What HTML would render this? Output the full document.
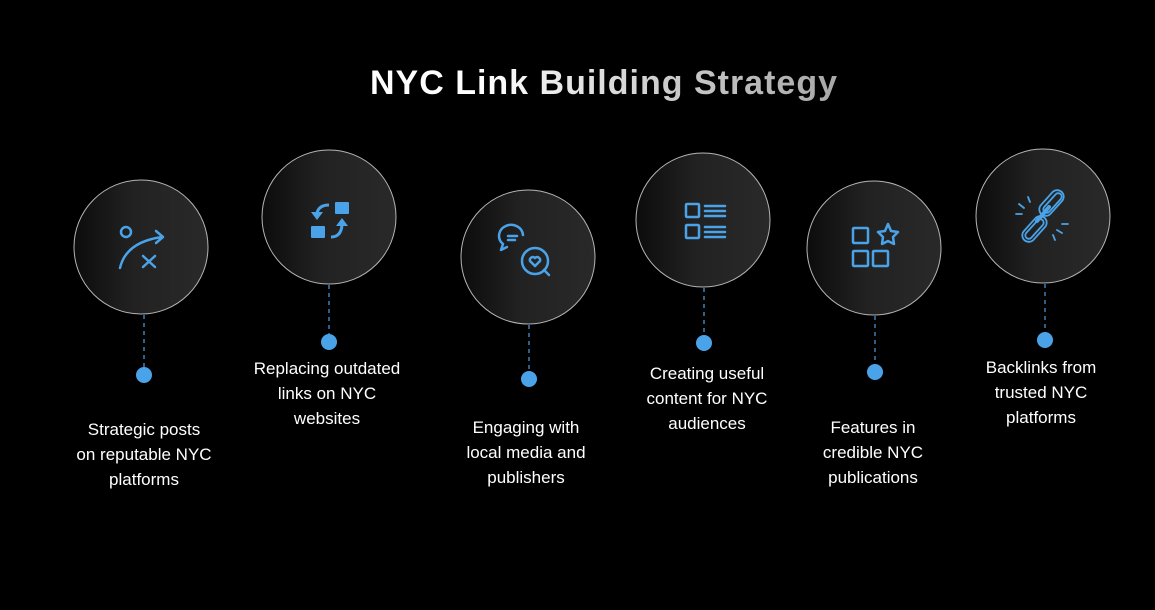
<!DOCTYPE html>
<html><head><style>
html,body{margin:0;padding:0;background:#000;width:1155px;height:610px;overflow:hidden}
.t{position:absolute;color:#fff;font-family:"Liberation Sans",sans-serif;font-size:17px;line-height:25px;text-align:center;width:200px}
h1{position:absolute;margin:0;left:0;width:1208px;top:64px;text-align:center;font-family:"Liberation Sans",sans-serif;font-weight:bold;font-size:34px;letter-spacing:1px;background:linear-gradient(90deg,#fff 40%,#ccc 55%,#999 75%);-webkit-background-clip:text;background-clip:text;color:transparent}
</style></head><body>
<h1>NYC Link Building Strategy</h1>
<svg width="1155" height="610" style="position:absolute;left:0;top:0">
<defs><linearGradient id="g" x1="0" x2="1" y1="0" y2="0"><stop offset="0" stop-color="#0c0c0c"/><stop offset="0.45" stop-color="#222"/><stop offset="1" stop-color="#292929"/></linearGradient></defs>
<g stroke="#3f7fb5" stroke-width="1.5" stroke-dasharray="4,4">
<line x1="144" y1="315" x2="144" y2="368"/><line x1="329" y1="285" x2="329" y2="335"/><line x1="529" y1="325" x2="529" y2="372"/><line x1="704" y1="288" x2="704" y2="336"/><line x1="875" y1="316" x2="875" y2="365"/><line x1="1045" y1="284" x2="1045" y2="333"/>
</g>
<g fill="#4aa3e8"><circle cx="144" cy="375" r="8"/><circle cx="329" cy="342" r="8"/><circle cx="529" cy="379" r="8"/><circle cx="704" cy="343" r="8"/><circle cx="875" cy="372" r="8"/><circle cx="1045" cy="340" r="8"/></g>
<g fill="url(#g)" stroke="#b8b4b0" stroke-width="1">
<circle cx="141" cy="247" r="67"/><circle cx="329" cy="217" r="67"/><circle cx="528" cy="257" r="67"/><circle cx="703" cy="220" r="67"/><circle cx="874" cy="248" r="67"/><circle cx="1043" cy="216" r="67"/>
</g>
<g fill="none" stroke="#4aa3e8" stroke-width="2.5" stroke-linecap="round" stroke-linejoin="round">
<circle cx="126" cy="232" r="5"/><path d="M120 268 Q126 242 162 237"/><path d="M156 231 L163 237 L156 243"/><path d="M143 256 L155 267 M155 256 L143 267"/>
<path d="M523 235 a12 11 0 1 0 -20 9 l-2 6 l6 -3 M508 236 h9 M508 240 h7"/><circle cx="535" cy="261" r="13"/><path d="M544 270 l5 5"/><path d="M535 266 l-5 -5 a3 3 0 0 1 5 -3 a3 3 0 0 1 5 3 z"/>
<rect x="686" y="204" width="13" height="13" rx="1"/><rect x="686" y="225" width="13" height="13" rx="1"/><path d="M705 206 h20 M705 211 h20 M705 216 h20 M705 227 h20 M705 232 h20 M705 237 h20"/>
<rect x="853" y="228" width="15" height="15" rx="1"/><rect x="853" y="251" width="15" height="15" rx="1"/><rect x="873" y="251" width="15" height="15" rx="1"/><path d="M888 224 l3 7 7 1 -5 5 1 7 -6 -3 -6 3 1 -7 -5 -5 7 -1z"/>
</g>
<g fill="none" stroke="#4aa3e8" stroke-width="1.8" stroke-linecap="round">
<rect x="1045" y="188" width="13" height="30" rx="6.5" transform="rotate(42 1051.5 203)"/>
<rect x="1049" y="191" width="7" height="24" rx="3.5" transform="rotate(42 1052.5 203)"/>
<rect x="1028" y="214" width="13" height="30" rx="6.5" transform="rotate(42 1034.5 229)"/>
<rect x="1031" y="217" width="7" height="24" rx="3.5" transform="rotate(42 1034.5 229)"/>
<path d="M1019 204 l5 4 M1028 197 l2 5 M1062 233 l-5 -3 M1055 240 l-2 -5 M1016 214 l6 0 M1068 224 l-6 0"/>
</g>
<path d="M1049 207 l-12 14" stroke="#4aa3e8" stroke-width="4" stroke-linecap="round"/>
<g fill="#4aa3e8"><rect x="335" y="202" width="14" height="12" rx="1"/><rect x="311" y="226" width="14" height="12" rx="1"/></g>
<g fill="none" stroke="#4aa3e8" stroke-width="3"><path d="M329 205 q-10 0 -12 8"/><path d="M331 237 q10 0 11 -12"/></g>
<g fill="#4aa3e8"><path d="M311 212 l6 8 6 -8z"/><path d="M336 226 l6 -8 6 8z"/></g>
</svg>
<div class="t" style="left:44px;top:417px">Strategic posts<br>on reputable NYC<br>platforms</div>
<div class="t" style="left:227px;top:356px">Replacing outdated<br>links on NYC<br>websites</div>
<div class="t" style="left:426px;top:415px">Engaging with<br>local media and<br>publishers</div>
<div class="t" style="left:607px;top:361px">Creating useful<br>content for NYC<br>audiences</div>
<div class="t" style="left:773px;top:415px">Features in<br>credible NYC<br>publications</div>
<div class="t" style="left:941px;top:355px">Backlinks from<br>trusted NYC<br>platforms</div>
</body></html>
